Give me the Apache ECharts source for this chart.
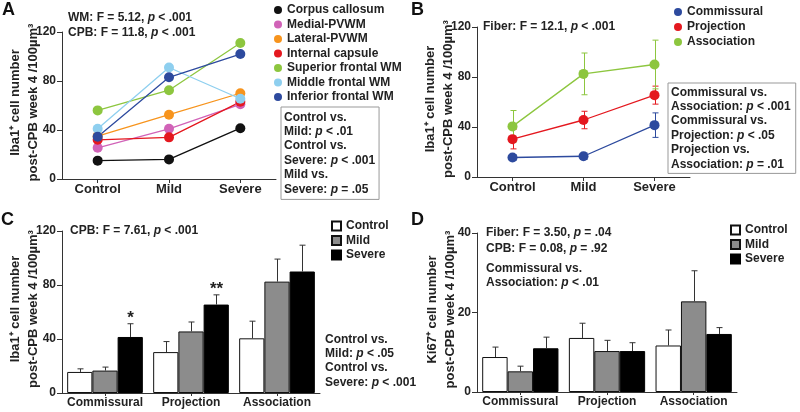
<!DOCTYPE html>
<html><head><meta charset="utf-8">
<script src="https://cdn.jsdelivr.net/npm/echarts@6/dist/echarts.min.js"></script>
<style>html,body{margin:0;padding:0;background:#fff}#c{width:800px;height:412px}</style>
</head><body><div id="c"></div>
<script>
// ---------- data ----------
const severityCats = ['Control', 'Mild', 'Severe'];
const fiberCats = ['Commissural', 'Projection', 'Association'];
const regionNames = ['Corpus callosum', 'Medial-PVWM', 'Lateral-PVWM', 'Internal capsule',
  'Superior frontal WM', 'Middle frontal WM', 'Inferior frontal WM'];
const corpusCallosum = [15, 16, 41.5];
const medialPVWM = [25.5, 41, 61];
const lateralPVWM = [35, 52.5, 70];
const internalCapsule = [32, 34, 63];
const superiorFrontalWM = [56, 72.5, 111];
const middleFrontalWM = [41, 91, 65.5];
const inferiorFrontalWM = [34.5, 83, 102];

const iba1Commissural = [15.6, 16.6, 41.5];
const iba1CommissuralSE = [2.3, 2.6, 9.8];
const iba1Projection = [30.3, 45.6, 65.5];
const iba1ProjectionSE = [7.8, 7.0, 7.2];
const iba1Association = [40.5, 82.5, 90];
const iba1AssociationSE = [12.7, 16.7, 19.5];
const iba1Sig = ['*', '**', ''];

const ki67Control = [8.8, 13.6, 11.7];
const ki67ControlSE = [2.5, 3.7, 3.9];
const ki67Mild = [5.2, 10.3, 22.8];
const ki67MildSE = [1.3, 2.7, 7.7];
const ki67Severe = [11.0, 10.3, 14.6];
const ki67SevereSE = [2.8, 2.1, 1.6];

const iba1Axis = { min: 0, max: 120, interval: 40 };
const ki67Axis = { min: 0, max: 40, interval: 20 };

// ---------- styling ----------
const F = '"Liberation Sans", Arial, sans-serif';
const TXT = '#222';
const regionColors = ['#111111', '#d163b8', '#f7941d', '#e4181f', '#8dc63f', '#8ecfef', '#2d4a9e'];
const fiberColors = ['#2d4a9e', '#e4181f', '#8dc63f'];
const barStyles = [
  { color: '#ffffff', borderColor: '#111', borderWidth: 1 },
  { color: '#8c8c8c', borderColor: '#111', borderWidth: 1 },
  { color: '#000000', borderColor: '#000', borderWidth: 1 }
];
const R = { i: { fontStyle: 'italic', fontWeight: 'bold', fontSize: 12, fontFamily: F, fill: TXT, lineHeight: 14.4 } };

function txt(x, y, s, extra) {
  return { type: 'text', x: x, y: y, style: Object.assign({
    text: s, fontSize: 12, fontWeight: 'bold', fontFamily: F, fill: TXT,
    verticalAlign: 'middle', lineHeight: 14.4, rich: R }, extra || {}) };
}
function letter(x, y, s) {
  return { type: 'text', x: x, y: y, style: { text: s, fontSize: 18, fontWeight: 'bold', fontFamily: F, fill: '#111', verticalAlign: 'middle' } };
}

function yAx(idx, spec, name, gap) {
  return {
    type: 'value', gridIndex: idx, min: spec.min, max: spec.max, interval: spec.interval,
    name: name, nameLocation: 'middle', nameRotate: 90, nameGap: gap, nameMoveOverlap: false,
    nameTextStyle: { fontSize: 13, fontWeight: 'bold', fontFamily: F, color: TXT, lineHeight: 18, padding: [0, 0, 0, 6] },
    axisLine: { show: true, lineStyle: { color: '#333', width: 1 } },
    axisTick: { show: true, length: 5, lineStyle: { color: '#333' } },
    splitLine: { show: false },
    axisLabel: { fontSize: 12, fontWeight: 'bold', fontFamily: F, color: TXT, margin: 6 }
  };
}
function xAx(idx, cats, fs, margin, tl) {
  return {
    type: 'category', gridIndex: idx, data: cats,
    axisLine: { show: true, lineStyle: { color: '#333', width: 1 } },
    axisTick: { show: true, alignWithLabel: true, length: tl, lineStyle: { color: '#333' } },
    axisLabel: { fontSize: fs, fontWeight: 'bold', fontFamily: F, color: TXT, margin: margin, interval: 0 }
  };
}

function errSeries(axis, means, ses, color, shift, twoSided, sig) {
  return {
    type: 'custom', xAxisIndex: axis, yAxisIndex: axis, z: twoSided ? 1 : 3, silent: true,
    encode: { x: 0, y: 1 },
    data: means.map((m, i) => [i, m, ses[i]]),
    renderItem: function (params, api) {
      const i = api.value(0), m = api.value(1), e = api.value(2);
      const bw = api.size([1, 0])[0];
      const x = Math.round(api.coord([i, m])[0] + shift * bw * 0.88 / 3) + 0.5;
      const yTop = api.coord([i, m + e])[1];
      const yBot = api.coord([i, twoSided ? m - e : m])[1];
      const st = { stroke: color, lineWidth: 1 };
      const ch = [
        { type: 'line', shape: { x1: x, y1: yTop, x2: x, y2: yBot }, style: st },
        { type: 'line', shape: { x1: x - 3, y1: yTop, x2: x + 3, y2: yTop }, style: st }
      ];
      if (twoSided) ch.push({ type: 'line', shape: { x1: x - 3, y1: yBot, x2: x + 3, y2: yBot }, style: st });
      if (sig && sig[i]) ch.push({ type: 'text', x: x, y: yTop - 14, style: { text: sig[i], fontSize: 17, fontWeight: 'bold', fontFamily: F, fill: TXT, align: 'center', verticalAlign: 'top' } });
      return { type: 'group', children: ch };
    }
  };
}

// ---------- series ----------
const regionData = [corpusCallosum, medialPVWM, lateralPVWM, internalCapsule, superiorFrontalWM, middleFrontalWM, inferiorFrontalWM];
const series = [];
regionNames.forEach((n, k) => series.push({
  name: n, type: 'line', xAxisIndex: 0, yAxisIndex: 0, data: regionData[k],
  symbol: 'circle', symbolSize: 10, color: regionColors[k],
  lineStyle: { width: 1.3, color: regionColors[k] }, itemStyle: { color: regionColors[k] }
}));

const fiberMeans = [iba1Commissural, iba1Projection, iba1Association];
const fiberSE = [iba1CommissuralSE, iba1ProjectionSE, iba1AssociationSE];
fiberCats.forEach((n, k) => {
  series.push({
    name: n, type: 'line', xAxisIndex: 1, yAxisIndex: 1, data: fiberMeans[k], z: 3,
    symbol: 'circle', symbolSize: 10, color: fiberColors[k],
    lineStyle: { width: 1.3, color: fiberColors[k] }, itemStyle: { color: fiberColors[k] }
  });
  series.push(errSeries(1, fiberMeans[k], fiberSE[k], fiberColors[k], 0, true));
});

// panel C: severity groups across fiber categories
severityCats.forEach((s, j) => {
  const means = fiberMeans.map(a => a[j]);
  const ses = fiberSE.map(a => a[j]);
  series.push({
    name: s, type: 'bar', xAxisIndex: 2, yAxisIndex: 2, data: means,
    barGap: '0%', barCategoryGap: '12%', itemStyle: barStyles[j]
  });
  series.push(errSeries(2, means, ses, '#333', j - 1, false, j === 2 ? iba1Sig : null));
});

const ki67 = [ki67Control, ki67Mild, ki67Severe];
const ki67SE = [ki67ControlSE, ki67MildSE, ki67SevereSE];
severityCats.forEach((s, j) => {
  series.push({
    name: s, type: 'bar', xAxisIndex: 3, yAxisIndex: 3, data: ki67[j],
    barGap: '0%', barCategoryGap: '12%', itemStyle: barStyles[j]
  });
  series.push(errSeries(3, ki67[j], ki67SE[j], '#333', j - 1, false));
});

const legTxt = { fontSize: 12, fontWeight: 'bold', fontFamily: F, color: TXT };
const G = { outerBoundsMode: 'none', containLabel: false };
const option = {
  animation: false,
  backgroundColor: '#fff',
  grid: [
    Object.assign({ left: 62, top: 32, width: 214, height: 147 }, G),
    Object.assign({ left: 477, top: 27, width: 213, height: 150 }, G),
    Object.assign({ left: 62, top: 231, width: 258, height: 162 }, G),
    Object.assign({ left: 477, top: 233, width: 260, height: 159 }, G)
  ],
  xAxis: [
    xAx(0, severityCats, 13, 4, 4), xAx(1, severityCats, 13, 4, 4),
    xAx(2, fiberCats, 12, 4, 3), xAx(3, fiberCats, 12, 4, 3)
  ],
  yAxis: [
    yAx(0, iba1Axis, 'Iba1\u207A cell number\npost-CPB week 4 /100\u00B5m\u00B3', 20),
    yAx(1, iba1Axis, 'Iba1\u207A cell number\npost-CPB week 4 /100\u00B5m\u00B3', 20),
    yAx(2, iba1Axis, 'Iba1\u207A cell number\npost-CPB week 4 /100\u00B5m\u00B3', 20),
    yAx(3, ki67Axis, 'Ki67\u207A cell number\npost-CPB week 4 /100\u00B5m\u00B3', 18)
  ],
  legend: [
    { data: regionNames, orient: 'vertical', left: 274, top: 4, padding: 0, itemGap: 2.5,
      itemWidth: 8, itemHeight: 8, icon: 'circle', selectedMode: false, textStyle: legTxt },
    { data: fiberCats, orient: 'vertical', left: 674, top: 6, padding: 0, itemGap: 3,
      itemWidth: 8, itemHeight: 8, icon: 'circle', selectedMode: false, textStyle: legTxt },
    { data: severityCats, orient: 'vertical', left: 331, top: 220, padding: 0, itemGap: 2.5,
      itemWidth: 9, itemHeight: 9, icon: 'rect', selectedMode: false, textStyle: legTxt },
    { data: severityCats, orient: 'vertical', left: 730, top: 224, padding: 0, itemGap: 2.5,
      itemWidth: 9, itemHeight: 9, icon: 'rect', selectedMode: false, textStyle: legTxt }
  ],
  graphic: [
    letter(2, 10, 'A'), letter(411, 10, 'B'), letter(1, 220, 'C'), letter(411, 220, 'D'),
    txt(68, 18, 'WM: F = 5.12, {i|p} < .001'),
    txt(68, 33, 'CPB: F = 11.8, {i|p} < .001'),
    txt(281, 107, 'Control vs.\nMild: {i|p} < .01\nControl vs.\nSevere: {i|p} < .001\nMild vs.\nSevere: {i|p} = .05',
      { verticalAlign: 'top', padding: [3, 4, 3, 3], borderColor: '#999', borderWidth: 1 }),
    txt(483, 27, 'Fiber: F = 12.1, {i|p} < .001'),
    txt(668, 83, 'Commissural vs.\nAssociation: {i|p} < .001\nCommissural vs.\nProjection: {i|p} < .05\nProjection vs.\nAssociation: {i|p} = .01',
      { verticalAlign: 'top', padding: [2, 5, 2, 3], borderColor: '#999', borderWidth: 1 }),
    txt(70, 231, 'CPB: F = 7.61, {i|p} < .001'),
    txt(325, 332, 'Control vs.\nMild: {i|p} < .05\nControl vs.\nSevere: {i|p} < .001', { verticalAlign: 'top' }),
    txt(486, 233, 'Fiber: F = 3.50, {i|p} = .04'),
    txt(486, 249, 'CPB: F = 0.08, {i|p} = .92'),
    txt(486, 261, 'Commissural vs.\nAssociation: {i|p} < .01', { verticalAlign: 'top' })
  ],
  series: series
};
echarts.init(document.getElementById('c'), null, { renderer: 'canvas' }).setOption(option);
</script>
</body></html>
